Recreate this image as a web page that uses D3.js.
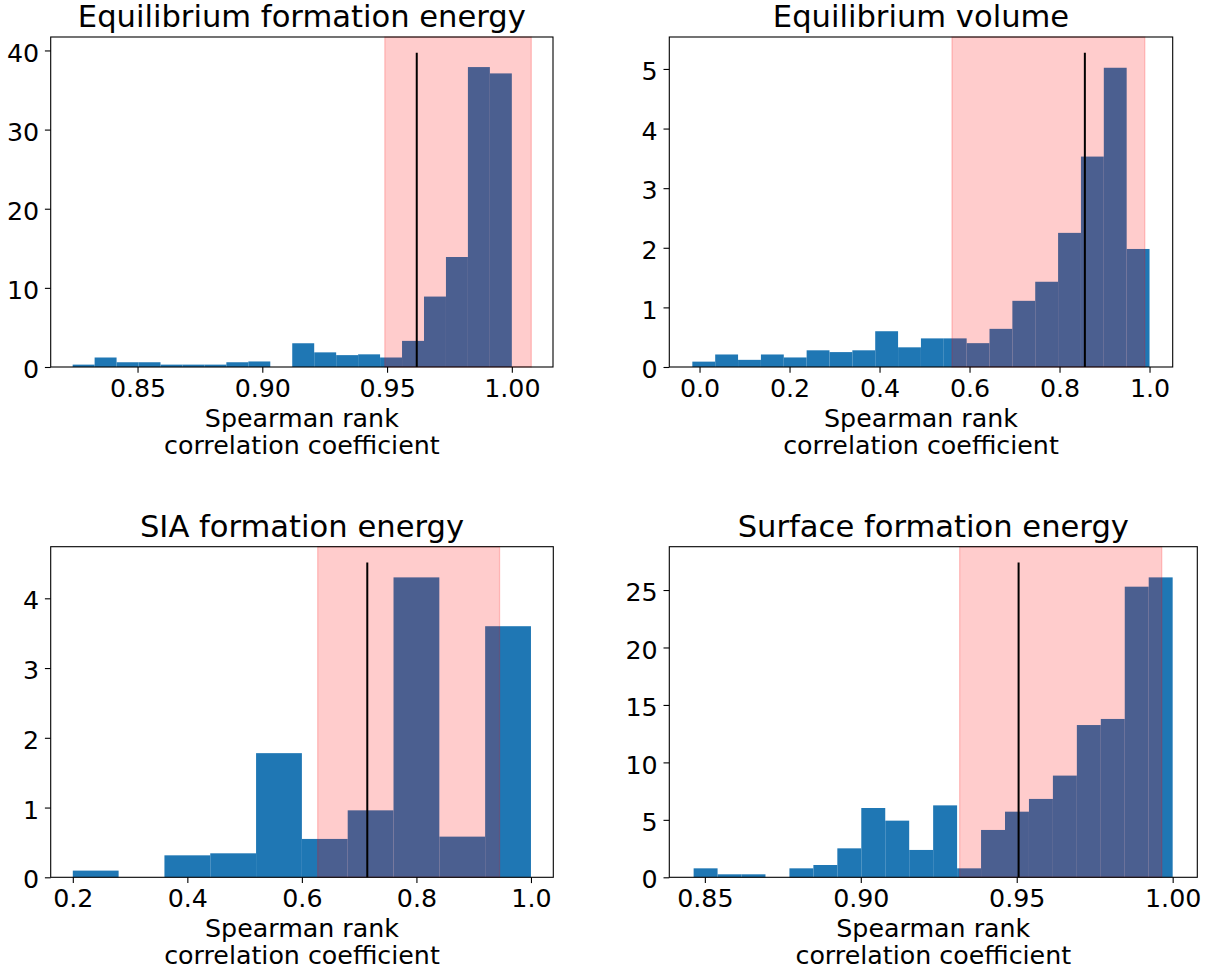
<!DOCTYPE html>
<html>
<head>
<meta charset="utf-8">
<script src="https://cdn.jsdelivr.net/npm/d3@7"></script>
<style>
  html, body { margin: 0; padding: 0; background: #fff; }
  svg { display: block; }
  text { font-family: "DejaVu Sans", sans-serif; fill: #000; }
</style>
</head>
<body>
<svg id="chart" width="1210" height="972"></svg>
<script>
// ---- Data ----
const titles = ["Equilibrium formation energy", "Equilibrium volume", "SIA formation energy", "Surface formation energy"];
const xLabelLines = ["Spearman rank", "correlation coefficient"];

// Histogram bin edges (density histograms)
const edges1 = [0.824, 0.8328, 0.8416, 0.8504, 0.8592, 0.868, 0.8768, 0.8856, 0.8944, 0.9032, 0.912, 0.9208, 0.9296, 0.9384, 0.9472, 0.956, 0.9648, 0.9736, 0.9824, 0.9912, 1.0];
const edges2 = [-0.016, 0.0348, 0.0856, 0.1364, 0.1872, 0.238, 0.2888, 0.3396, 0.3904, 0.4412, 0.492, 0.5428, 0.5936, 0.6444, 0.6952, 0.746, 0.7968, 0.8476, 0.8984, 0.9492, 1.0];
const edges3 = [0.2, 0.28, 0.36, 0.44, 0.52, 0.6, 0.68, 0.76, 0.84, 0.92, 1.0];
const edges4 = [0.8464, 0.85408, 0.86176, 0.86944, 0.87712, 0.8848, 0.89248, 0.90016, 0.90784, 0.91552, 0.9232, 0.93088, 0.93856, 0.94624, 0.95392, 0.9616, 0.96928, 0.97696, 0.98464, 0.99232, 1.0];

// Bar heights (density)
const density1 = [0.3, 1.2, 0.6, 0.6, 0.3, 0.3, 0.3, 0.6, 0.7, 0, 3.0, 1.85, 1.5, 1.6, 1.2, 3.3, 8.9, 13.9, 37.9, 37.1];
const density2 = [0.09, 0.21, 0.12, 0.21, 0.16, 0.28, 0.25, 0.28, 0.60, 0.33, 0.48, 0.48, 0.40, 0.64, 1.11, 1.43, 2.25, 3.53, 5.02, 1.98];
const density3 = [0.096, 0, 0.315, 0.344, 1.78, 0.55, 0.96, 4.30, 0.583, 3.60];
const density4 = [0.78, 0.26, 0.26, 0, 0.78, 1.07, 2.52, 6.03, 4.93, 2.38, 6.26, 0.78, 4.12, 5.71, 6.82, 8.85, 13.25, 13.78, 25.29, 26.1];

// Shaded interval [low, high] and median line (x, top)
const span1 = [0.9491, 1.0078], median1 = 0.9619, lineTop1 = 39.7;
const span2 = [0.561, 0.9895], median2 = 0.8563, lineTop2 = 5.27;
const span3 = [0.6276, 0.9452], median3 = 0.7142, lineTop3 = 4.515;
const span4 = [0.9317, 0.9965], median4 = 0.9506, lineTop4 = 27.4;

// Axis domains and ticks
const xDomain1 = [0.8152, 1.0165], yDomain1 = [0, 41.7];
const xDomain2 = [-0.0672, 1.0515], yDomain2 = [0, 5.536];
const xDomain3 = [0.1614, 1.039], yDomain3 = [0, 4.74];
const xDomain4 = [0.8386, 1.0079], yDomain4 = [0, 28.77];
const xTicks1 = [0.85, 0.90, 0.95, 1.00], xTickLabels1 = ["0.85", "0.90", "0.95", "1.00"];
const xTicks2 = [0.0, 0.2, 0.4, 0.6, 0.8, 1.0], xTickLabels2 = ["0.0", "0.2", "0.4", "0.6", "0.8", "1.0"];
const xTicks3 = [0.2, 0.4, 0.6, 0.8, 1.0], xTickLabels3 = ["0.2", "0.4", "0.6", "0.8", "1.0"];
const xTicks4 = [0.85, 0.90, 0.95, 1.00], xTickLabels4 = ["0.85", "0.90", "0.95", "1.00"];
const yTicks1 = [0, 10, 20, 30, 40];
const yTicks2 = [0, 1, 2, 3, 4, 5];
const yTicks3 = [0, 1, 2, 3, 4];
const yTicks4 = [0, 5, 10, 15, 20, 25];

// ---- Layout ----
const boxes = [
  { x0: 50.7, x1: 553.0, y0: 37.0, y1: 367.0 },
  { x0: 669.3, x1: 1172.7, y0: 37.0, y1: 367.0 },
  { x0: 50.7, x1: 553.3, y0: 546.7, y1: 877.3 },
  { x0: 669.3, x1: 1197.3, y0: 546.7, y1: 877.3 }
];

const panels = [
  { edges: edges1, dens: density1, span: span1, med: median1, top: lineTop1, xd: xDomain1, yd: yDomain1, xt: xTicks1, xtl: xTickLabels1, yt: yTicks1 },
  { edges: edges2, dens: density2, span: span2, med: median2, top: lineTop2, xd: xDomain2, yd: yDomain2, xt: xTicks2, xtl: xTickLabels2, yt: yTicks2 },
  { edges: edges3, dens: density3, span: span3, med: median3, top: lineTop3, xd: xDomain3, yd: yDomain3, xt: xTicks3, xtl: xTickLabels3, yt: yTicks3 },
  { edges: edges4, dens: density4, span: span4, med: median4, top: lineTop4, xd: xDomain4, yd: yDomain4, xt: xTicks4, xtl: xTickLabels4, yt: yTicks4 }
];

const svg = d3.select("#chart");
const barColor = "#1f77b4";
const TICK = 5.8, PAD = 5.8, FONT = 25.3, TITLE_FONT = 30.6;

panels.forEach((p, i) => {
  const b = boxes[i];
  const x = d3.scaleLinear().domain(p.xd).range([b.x0, b.x1]);
  const y = d3.scaleLinear().domain(p.yd).range([b.y1, b.y0]);
  const g = svg.append("g");

  const bins = p.dens.map((d, k) => ({ lo: p.edges[k], hi: p.edges[k + 1], v: d }));

  // bars
  g.append("g").selectAll("rect").data(bins.filter(d => d.v > 0)).join("rect")
    .attr("x", d => x(d.lo))
    .attr("width", d => x(d.hi) - x(d.lo))
    .attr("y", d => y(d.v))
    .attr("height", d => y(0) - y(d.v))
    .attr("fill", barColor);

  // shaded interval
  g.append("rect")
    .attr("x", x(p.span[0]))
    .attr("width", x(p.span[1]) - x(p.span[0]))
    .attr("y", b.y0)
    .attr("height", b.y1 - b.y0)
    .attr("fill", "rgba(255,0,0,0.2)")
    .attr("stroke", "rgba(255,0,0,0.2)")
    .attr("stroke-width", 1.3);

  // median line
  g.append("line")
    .attr("x1", x(p.med)).attr("x2", x(p.med))
    .attr("y1", y(0)).attr("y2", y(p.top))
    .attr("stroke", "#000").attr("stroke-width", 2);

  // axes
  const xAxis = d3.axisBottom(x).tickValues(p.xt).tickFormat((d, k) => p.xtl[k])
    .tickSize(TICK).tickPadding(PAD).tickSizeOuter(0);
  const yAxis = d3.axisLeft(y).tickValues(p.yt).tickFormat(d3.format("d"))
    .tickSize(TICK).tickPadding(PAD).tickSizeOuter(0);

  const gx = g.append("g").attr("transform", `translate(0,${b.y1})`).call(xAxis);
  const gy = g.append("g").attr("transform", `translate(${b.x0},0)`).call(yAxis);
  [gx, gy].forEach(a => {
    a.select(".domain").remove();
    a.selectAll("line").attr("stroke", "#000").attr("stroke-width", 1.1);
    a.selectAll("text").attr("font-size", FONT).attr("font-family", "DejaVu Sans").attr("fill", "#000");
  });
  gy.selectAll("text").attr("dy", "0.42em");

  // frame
  g.append("rect")
    .attr("x", b.x0).attr("y", b.y0)
    .attr("width", b.x1 - b.x0).attr("height", b.y1 - b.y0)
    .attr("fill", "none").attr("stroke", "#000").attr("stroke-width", 1.1);

  // title
  g.append("text")
    .attr("x", (b.x0 + b.x1) / 2)
    .attr("y", b.y0 - 10)
    .attr("text-anchor", "middle")
    .attr("font-size", TITLE_FONT)
    .text(titles[i]);

  // x label (two lines)
  const lab = g.append("text")
    .attr("text-anchor", "middle")
    .attr("font-size", FONT);
  xLabelLines.forEach((t, k) => {
    lab.append("tspan")
      .attr("x", (b.x0 + b.x1) / 2)
      .attr("y", b.y1 + 59.7 + k * 26.8)
      .text(t);
  });
});
</script>
</body>
</html>
